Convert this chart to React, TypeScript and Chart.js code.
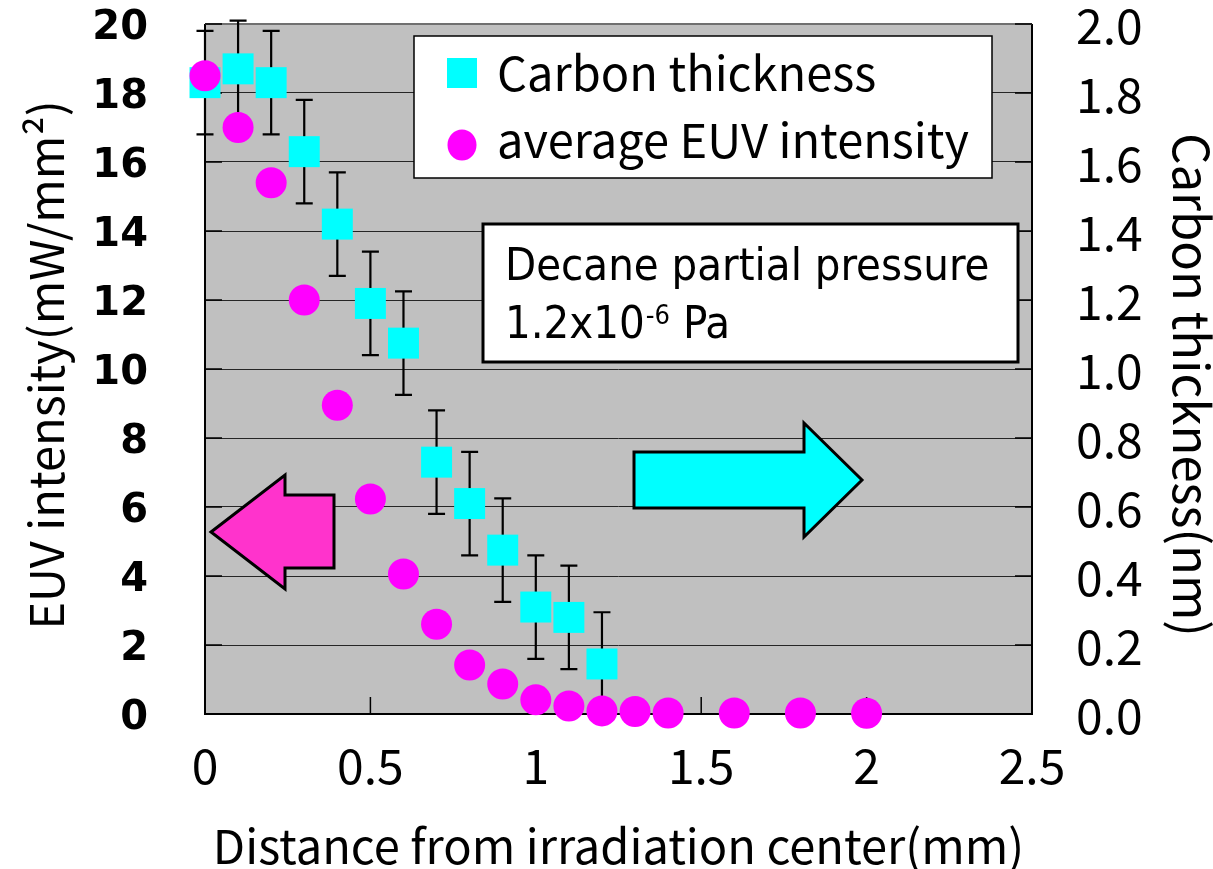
import React, { useEffect, useRef } from 'react';
import { Chart, registerables } from 'chart.js';

Chart.register(...registerables);

// Carbon deposit thickness (nm, right axis) with its measurement uncertainty
const carbonDistance = [0, 0.1, 0.2, 0.3, 0.4, 0.5, 0.6, 0.7, 0.8, 0.9, 1.0, 1.1, 1.2];
const carbonThickness = [1.83, 1.87, 1.83, 1.63, 1.42, 1.19, 1.075, 0.73, 0.61, 0.475, 0.31, 0.28, 0.145];
const carbonError = [0.15, 0.14, 0.15, 0.15, 0.15, 0.15, 0.15, 0.15, 0.15, 0.15, 0.15, 0.15, 0.15];

// Average EUV intensity (mW/mm², left axis)
const euvDistance = [0, 0.1, 0.2, 0.3, 0.4, 0.5, 0.6, 0.7, 0.8, 0.9, 1.0, 1.1, 1.2, 1.3, 1.4, 1.6, 1.8, 2.0];
const euvIntensity = [18.5, 17.0, 15.4, 12.0, 8.95, 6.23, 4.06, 2.6, 1.42, 0.87, 0.41, 0.23, 0.09, 0.07, 0.03, 0.03, 0.03, 0.02];

// Tick labels
const xTickLabels = ['0', '0.5', '1', '1.5', '2', '2.5'];
const leftTickLabels = ['0', '2', '4', '6', '8', '10', '12', '14', '16', '18', '20'];
const rightTickLabels = ['0.0', '0.2', '0.4', '0.6', '0.8', '1.0', '1.2', '1.4', '1.6', '1.8', '2.0'];

// Text
const xTitle = 'Distance from irradiation center(mm)';
const leftTitle = 'EUV intensity(mW/mm²)';
const rightTitle = 'Carbon thickness(nm)';
const carbonLabel = 'Carbon thickness';
const euvLabel = 'average EUV intensity';
const noteLine1 = 'Decane partial pressure';
const noteLine2Base = '1.2x10';
const noteLine2Exp = '-6';
const noteLine2Unit = ' Pa';

const JP = '"Noto Sans CJK JP", "Noto Sans", sans-serif';
const CYAN = '#00FFFF';
const MAGENTA = '#FF00FF';
const PLOT_BG = '#C0C0C0';

// Use the condensed DejaVu face for the note box when it is installed.
let noteFamily: string | null = null;
const pickNoteFamily = (ctx: CanvasRenderingContext2D) => {
  if (noteFamily) return noteFamily;
  ctx.save();
  ctx.font = '45px "DejaVu Sans"';
  const wide = ctx.measureText(noteLine1).width;
  ctx.font = '45px "DejaVu Sans Condensed", "DejaVu Sans"';
  const cond = ctx.measureText(noteLine1).width;
  ctx.restore();
  noteFamily = Math.abs(wide - cond) > 2 ? '"DejaVu Sans Condensed"' : '"DejaVu Sans"';
  return noteFamily;
};

const polygon = (ctx: CanvasRenderingContext2D, pts: number[][], fill: string) => {
  ctx.beginPath();
  pts.forEach(([x, y], i) => (i === 0 ? ctx.moveTo(x, y) : ctx.lineTo(x, y)));
  ctx.closePath();
  ctx.fillStyle = fill;
  ctx.fill();
  ctx.lineWidth = 3;
  ctx.lineJoin = 'miter';
  ctx.strokeStyle = '#000';
  ctx.stroke();
};

const decorPlugin = {
  id: 'decor',
  beforeDraw(chart: any) {
    const { ctx, chartArea: a } = chart;
    ctx.save();
    ctx.fillStyle = PLOT_BG;
    ctx.fillRect(a.left, a.top, a.right - a.left, a.bottom - a.top);
    ctx.restore();
  },
  beforeDatasetsDraw(chart: any) {
    const { ctx, chartArea: a, scales } = chart;
    ctx.save();
    // frame
    ctx.lineWidth = 2;
    ctx.strokeStyle = '#000';
    ctx.beginPath();
    ctx.moveTo(a.left, a.top);
    ctx.lineTo(a.left, a.bottom);
    ctx.lineTo(a.right, a.bottom);
    ctx.lineTo(a.right, a.top);
    ctx.stroke();
    ctx.strokeStyle = '#707070';
    ctx.beginPath();
    ctx.moveTo(a.left, a.top);
    ctx.lineTo(a.right, a.top);
    ctx.stroke();

    // inward tick marks
    ctx.strokeStyle = '#000';
    ctx.lineWidth = 1.5;
    const tl = 17;
    scales.y.ticks.forEach((t: any) => {
      const y = scales.y.getPixelForValue(t.value);
      ctx.beginPath();
      ctx.moveTo(a.left, y);
      ctx.lineTo(a.left + tl, y);
      ctx.stroke();
    });
    scales.y2.ticks.forEach((t: any) => {
      const y = scales.y2.getPixelForValue(t.value);
      ctx.beginPath();
      ctx.moveTo(a.right - tl, y);
      ctx.lineTo(a.right, y);
      ctx.stroke();
    });
    scales.x.ticks.forEach((t: any) => {
      const x = scales.x.getPixelForValue(t.value);
      ctx.beginPath();
      ctx.moveTo(x, a.bottom);
      ctx.lineTo(x, a.bottom - tl);
      ctx.stroke();
    });

    // error bars on carbon thickness
    ctx.lineWidth = 2.2;
    const cap = 8.5;
    carbonDistance.forEach((d, i) => {
      const x = scales.x.getPixelForValue(d);
      const yHi = scales.y2.getPixelForValue(carbonThickness[i] + carbonError[i]);
      const yLo = scales.y2.getPixelForValue(carbonThickness[i] - carbonError[i]);
      ctx.beginPath();
      ctx.moveTo(x, yHi);
      ctx.lineTo(x, yLo);
      ctx.moveTo(x - cap, yHi);
      ctx.lineTo(x + cap, yHi);
      ctx.moveTo(x - cap, yLo);
      ctx.lineTo(x + cap, yLo);
      ctx.stroke();
    });
    ctx.restore();
  },
  afterDatasetsDraw(chart: any) {
    const { ctx, chartArea: a } = chart;
    const L = a.left;
    const T = a.top;
    ctx.save();

    // direction arrows
    polygon(
      ctx,
      [
        [L + 6, T + 508],
        [L + 80, T + 451],
        [L + 80, T + 471],
        [L + 129, T + 471],
        [L + 129, T + 544],
        [L + 80, T + 544],
        [L + 80, T + 565],
      ],
      '#FF33CC'
    );
    polygon(
      ctx,
      [
        [L + 429, T + 428],
        [L + 599, T + 428],
        [L + 599, T + 399],
        [L + 657, T + 456],
        [L + 599, T + 513],
        [L + 599, T + 484],
        [L + 429, T + 484],
      ],
      CYAN
    );

    // legend
    ctx.fillStyle = '#fff';
    ctx.fillRect(L + 209, T + 12, 578, 142);
    ctx.lineWidth = 1.5;
    ctx.strokeStyle = '#000';
    ctx.strokeRect(L + 209, T + 12, 578, 142);
    ctx.fillStyle = CYAN;
    ctx.fillRect(L + 257 - 15, T + 49 - 15, 30, 30);
    ctx.fillStyle = MAGENTA;
    ctx.beginPath();
    ctx.ellipse(L + 257, T + 121, 14.5, 15.5, 0, 0, Math.PI * 2);
    ctx.fill();
    ctx.fillStyle = '#000';
    ctx.font = `47px ${JP}`;
    ctx.textAlign = 'left';
    ctx.textBaseline = 'alphabetic';
    ctx.fillText(carbonLabel, L + 292, T + 67);
    ctx.fillText(euvLabel, L + 292, T + 134);

    // condition note
    ctx.fillStyle = '#fff';
    ctx.fillRect(L + 278, T + 200, 535, 138);
    ctx.lineWidth = 3;
    ctx.strokeRect(L + 278, T + 200, 535, 138);
    ctx.fillStyle = '#000';
    const fam = pickNoteFamily(ctx);
    const big = fam.includes('Condensed') ? 45 : 40.5;
    const small = Math.round(big * 0.6);
    ctx.font = `${big}px ${fam}`;
    ctx.fillText(noteLine1, L + 300, T + 256);
    let x = L + 300;
    ctx.fillText(noteLine2Base, x, T + 314);
    x += ctx.measureText(noteLine2Base).width + 1;
    ctx.font = `${small}px ${fam}`;
    ctx.fillText(noteLine2Exp, x, T + 300);
    x += ctx.measureText(noteLine2Exp).width;
    ctx.font = `${big}px ${fam}`;
    ctx.fillText(noteLine2Unit, x, T + 314);
    ctx.restore();
  },
  afterDraw(chart: any) {
    const { ctx, chartArea: a } = chart;
    ctx.save();
    ctx.fillStyle = '#000';
    ctx.textAlign = 'center';
    ctx.textBaseline = 'alphabetic';
    ctx.font = `47px ${JP}`;
    ctx.fillText(xTitle, (a.left + a.right) / 2, 864);

    ctx.save();
    ctx.font = `47px ${JP}`;
    ctx.translate(64, 365);
    ctx.rotate(-Math.PI / 2);
    ctx.fillText(leftTitle, 0, 0);
    ctx.restore();

    ctx.save();
    ctx.font = `49px ${JP}`;
    ctx.translate(1173, 385);
    ctx.rotate(Math.PI / 2);
    ctx.fillText(rightTitle, 0, 0);
    ctx.restore();
    ctx.restore();
  },
};

// Fix each axis box size and drop the extra label overhang padding.
const fixBox = (w: number | null, h: number | null) => (s: any) => {
  if (w !== null) s.width = w;
  if (h !== null) s.height = h;
  s.paddingTop = 0;
  s.paddingBottom = 0;
  s.paddingLeft = 0;
  s.paddingRight = 0;
};

export default function App() {
  const canvasRef = useRef<HTMLCanvasElement | null>(null);

  useEffect(() => {
    const canvas = canvasRef.current;
    if (!canvas) return;
    const chart = new Chart(canvas, {
      type: 'scatter',
      data: {
        datasets: [
          {
            label: euvLabel,
            data: euvDistance.map((d, i) => ({ x: d, y: euvIntensity[i] })),
            yAxisID: 'y',
            pointStyle: 'circle',
            pointRadius: 15.5,
            pointHoverRadius: 15.5,
            pointBackgroundColor: MAGENTA,
            pointBorderWidth: 0,
            borderWidth: 0,
            showLine: false,
            clip: false,
          },
          {
            label: carbonLabel,
            data: carbonDistance.map((d, i) => ({ x: d, y: carbonThickness[i] })),
            yAxisID: 'y2',
            pointStyle: 'rect',
            pointRadius: 21.9,
            pointHoverRadius: 21.9,
            pointBackgroundColor: CYAN,
            pointBorderWidth: 0,
            borderWidth: 0,
            showLine: false,
            clip: false,
          },
        ],
      },
      options: {
        responsive: false,
        animation: false,
        devicePixelRatio: 1,
        events: [],
        layout: { padding: { top: 24, left: 0, right: 0, bottom: 0 } },
        plugins: {
          legend: { display: false },
          tooltip: { enabled: false },
          title: { display: false },
        },
        scales: {
          x: {
            type: 'linear',
            position: 'bottom',
            min: 0,
            max: 2.5,
            afterFit: fixBox(null, 155),
            grid: { display: false, drawTicks: false },
            border: { display: false },
            ticks: {
              stepSize: 0.5,
              padding: 23,
              autoSkip: false,
              maxRotation: 0,
              color: '#000',
              font: { family: JP, size: 48 },
              callback: (_v: any, i: number) => xTickLabels[i],
            },
          },
          y: {
            type: 'linear',
            position: 'left',
            min: 0,
            max: 20,
            afterFit: fixBox(205, null),
            grid: { color: '#262626', lineWidth: 1, drawTicks: false },
            border: { display: false },
            ticks: {
              stepSize: 2,
              padding: 57,
              labelOffset: 5,
              autoSkip: false,
              color: '#000',
              font: { family: '"DejaVu Sans", sans-serif', size: 40, weight: 'bold' },
              callback: (_v: any, i: number) => leftTickLabels[i],
            },
          },
          y2: {
            type: 'linear',
            position: 'right',
            min: 0,
            max: 2,
            afterFit: fixBox(181, null),
            grid: { display: false, drawTicks: false },
            border: { display: false },
            ticks: {
              stepSize: 0.2,
              padding: 44,
              labelOffset: 2,
              autoSkip: false,
              color: '#000',
              font: { family: JP, size: 48 },
              callback: (_v: any, i: number) => rightTickLabels[i],
            },
          },
        },
      } as any,
      plugins: [decorPlugin],
    });
    return () => chart.destroy();
  }, []);

  return (
    <div style={{ position: 'absolute', left: 0, top: 0, width: 1213, height: 869 }}>
      <canvas ref={canvasRef} width={1213} height={869} style={{ display: 'block' }} />
    </div>
  );
}
